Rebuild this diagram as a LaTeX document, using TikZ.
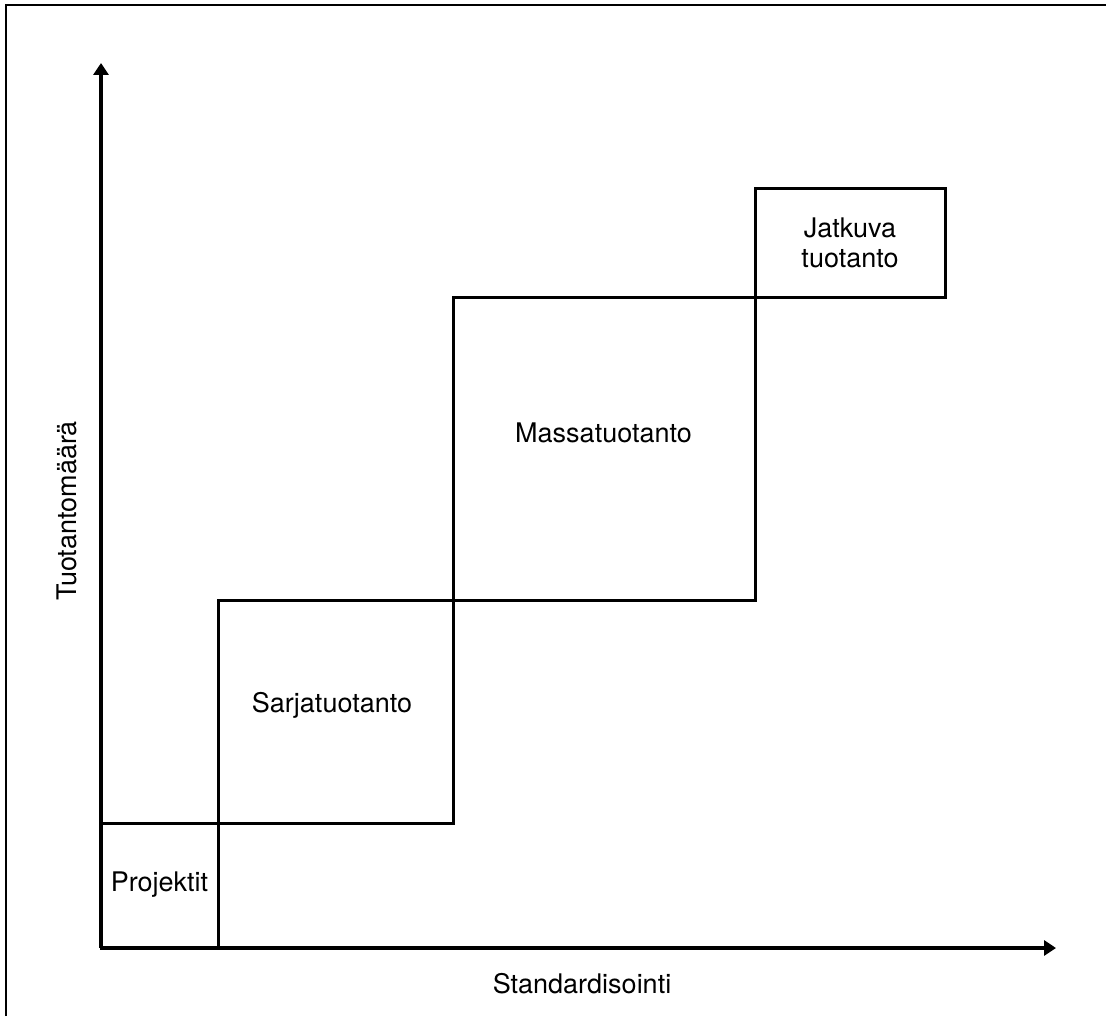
\documentclass[tikz,border=0pt]{standalone}
\usepackage{fontspec}
\setmainfont{TeX Gyre Heros}
\usetikzlibrary{arrows.meta}
\begin{document}
\begin{tikzpicture}[x=0.5pt, y=-0.5pt,
  stage/.style={line width=1.5pt, line join=miter},
  axis/.style={line width=2pt, -{Triangle[length=6pt,width=7.5pt]}},
  stagetext/.style={font=\fontsize{13.5}{15}\selectfont, align=center, inner sep=0pt}]
	\useasboundingbox (0,0) rectangle (1106,1016);

	% Draw frame
	\draw[line width=1pt, line join=miter] (6,1016) -- (6,5) -- (1106,5);

	% Draw axes
	\coordinate (origin) at (101,948);
	\coordinate (ytip) at (101,63);
	\coordinate (xtip) at (1056,948);
	\draw[axis] (origin) -- (ytip);
	\draw[axis] (origin) -- (xtip);
	\node[stagetext, rotate=90, anchor=base] (ylab) at (76,511) {Tuotantomäärä};
	\node[stagetext, anchor=base] (xlab) at (582,993) {Standardisointi};

	% Draw stages
	\draw[stage] (101,823) rectangle (218,948);
	\draw[stage] (218,600) rectangle (453,823);
	\draw[stage] (453,297) rectangle (755,600);
	\draw[stage] (755,189) rectangle (945,297);

	% Stage labels
	\node[stagetext, anchor=base] (proj) at (159.5,891) {Projektit};
	\node[stagetext, anchor=base] (sarja) at (332,712) {Sarjatuotanto};
	\node[stagetext, anchor=base] (massa) at (603.5,442) {Massatuotanto};
	\node[stagetext] (jatk) at (850,243) {Jatkuva\\tuotanto};
\end{tikzpicture}
\end{document}
